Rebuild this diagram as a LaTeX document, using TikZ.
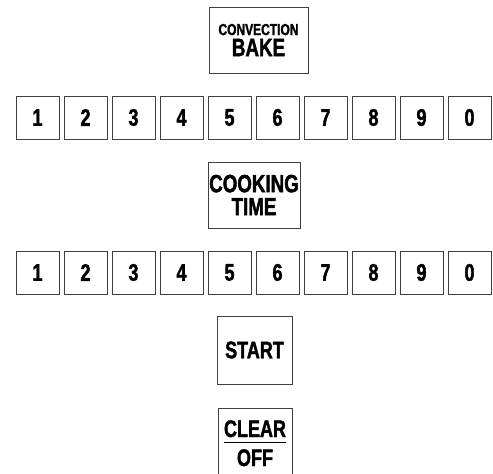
\documentclass[tikz,border=0pt]{standalone}
\usepackage{fontspec}
\newfontfamily\touchefont{Liberation Sans Bold}[FakeStretch=0.75, FakeBold=1.6]
\usepackage{tikz}

\begin{document}
\begin{tikzpicture}[x=1pt, y=-1pt,
    touche/.style={draw=black!75, line width=0.8pt, inner sep=0pt, align=center,
      font=\touchefont\fontsize{24}{24}\selectfont},
    chiffre/.style={touche, minimum width=43pt, minimum height=43pt}]
    \clip (0,0) rectangle (493,474);
    % Mode de cuisson
    \node[touche, minimum width=99pt, minimum height=66pt, font=\touchefont\fontsize{25}{21}\selectfont]
      (convection) at (258.5,40) {{\fontsize{16}{21}\selectfont CONVECTION}\\BAKE};
    % Chiffres
    \foreach \x/\n in {37.5/1, 85.5/2, 133.5/3, 181.5/4, 229.5/5, 277.5/6, 325.5/7, 373.5/8, 421.5/9, 469.5/0} {
      \node[chiffre] (a\n) at (\x, 117.5) {\n};
    }
    % Temps de cuisson
    \node[touche, minimum width=92pt, minimum height=66pt, font=\touchefont\fontsize{25}{23}\selectfont]
      (temps) at (254,195) {COOKING\\TIME};
    \foreach \x/\n in {37.5/1, 85.5/2, 133.5/3, 181.5/4, 229.5/5, 277.5/6, 325.5/7, 373.5/8, 421.5/9, 469.5/0} {
      \node[chiffre] (b\n) at (\x, 272.5) {\n};
    }
    % Depart / arret
    \node[touche, minimum width=75pt, minimum height=68pt] (start) at (254.5,350) {START};
    \node[touche, minimum width=74pt, minimum height=72pt] (stop) at (255,444) {};
    \node[font=\touchefont\fontsize{24}{24}\selectfont, inner sep=0pt, anchor=base] (clear) at (255,437) {CLEAR};
    \node[font=\touchefont\fontsize{24}{24}\selectfont, inner sep=0pt, anchor=base] (off) at (255,466) {OFF};
    \draw[line width=1.4pt] ([yshift=-5pt]clear.south west) -- ([yshift=-5pt]clear.south east);
\end{tikzpicture}
\end{document}
